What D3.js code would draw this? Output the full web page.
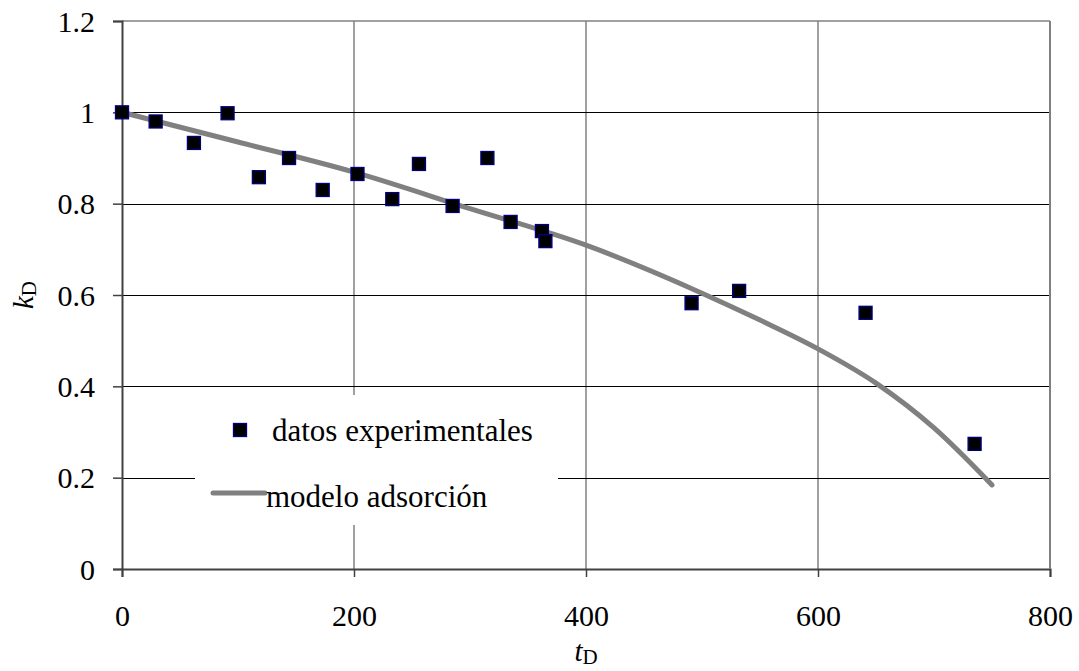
<!DOCTYPE html>
<html><head><meta charset="utf-8">
<script src="https://cdn.jsdelivr.net/npm/d3@7"></script>
<style>body{margin:0;background:#fff}svg{display:block}svg text{font-family:"Liberation Serif","Tinos","Times New Roman","Times","DejaVu Serif","Noto Serif",serif !important}</style>
</head><body><svg id="c" width="1079" height="671"></svg>
<script>
const expT = [0, 29, 62, 91, 118, 144, 173, 203, 233, 256, 285, 315, 335, 362, 365, 491, 532, 641, 735];
const expK = [1.0, 0.98, 0.933, 0.998, 0.858, 0.9, 0.83, 0.865, 0.81, 0.887, 0.795, 0.9, 0.76, 0.74, 0.718, 0.582, 0.609, 0.561, 0.274];
const modelT = [0, 100, 200, 300, 400, 500, 550, 600, 650, 700, 750];
const modelK = [1.0, 0.935, 0.869, 0.789, 0.709, 0.604, 0.545, 0.482, 0.407, 0.309, 0.184];
const xTicks = [0, 200, 400, 600, 800];
const yTicks = [0, 0.2, 0.4, 0.6, 0.8, 1.0, 1.2];
const yTickLabels = ["0", "0.2", "0.4", "0.6", "0.8", "1", "1.2"];
const legendLabels = ["datos experimentales", "modelo adsorción"];

const svg = d3.select("#c");
const L = 122, R = 1050, T = 21, B = 569;
const x = d3.scaleLinear().domain([0, 800]).range([L, R]);
const y = d3.scaleLinear().domain([0, 1.2]).range([B, T]);

svg.append("g").selectAll("line").data(xTicks.slice(1)).join("line")
  .attr("x1", d => x(d)).attr("x2", d => x(d)).attr("y1", T).attr("y2", B)
  .attr("stroke", "#808080").attr("stroke-width", 1.5);
svg.append("g").selectAll("line").data(yTicks.slice(1, -1)).join("line")
  .attr("x1", L).attr("x2", R).attr("y1", d => Math.round(y(d)) + 0.5).attr("y2", d => Math.round(y(d)) + 0.5)
  .attr("stroke", "#000").attr("stroke-width", 1);
svg.append("line").attr("x1", L).attr("x2", R).attr("y1", T).attr("y2", T).attr("stroke", "#808080").attr("stroke-width", 1.5);

const xAxis = d3.axisBottom(x).tickValues(xTicks).tickSize(8).tickFormat(d3.format("d"));
const gx = svg.append("g").attr("transform", `translate(0,${B})`).call(xAxis);
gx.select(".domain").attr("stroke", "#404040").attr("stroke-width", 2);
gx.selectAll(".tick line").attr("stroke", "#404040").attr("stroke-width", 1.5);
gx.selectAll(".tick text").attr("font-size", 30).attr("fill", "#000").attr("dy", 0).attr("y", 57);

const yAxis = d3.axisLeft(y).tickValues(yTicks).tickSize(9).tickFormat((d, i) => yTickLabels[i]);
const gy = svg.append("g").attr("transform", `translate(${L},0)`).call(yAxis);
gy.select(".domain").attr("stroke", "#404040").attr("stroke-width", 2);
gy.selectAll(".tick line").attr("stroke", "#404040").attr("stroke-width", 1.5);
gy.selectAll(".tick text").attr("font-size", 30).attr("fill", "#000").attr("x", -27).attr("dy", "0.34em");
svg.append("line").attr("x1", R).attr("x2", R).attr("y1", T).attr("y2", B).attr("stroke", "#808080").attr("stroke-width", 2);

const line = d3.line().x(d => x(d[0])).y(d => y(d[1])).curve(d3.curveMonotoneX);
svg.append("path").datum(modelT.map((t, i) => [t, modelK[i]]))
  .attr("d", line).attr("fill", "none").attr("stroke", "#808080").attr("stroke-width", 5).attr("stroke-linecap", "round");

const ms = 13;
svg.append("g").selectAll("rect").data(expT.map((t, i) => [t, expK[i]])).join("rect")
  .attr("x", d => x(d[0]) - ms / 2).attr("y", d => y(d[1]) - ms / 2).attr("width", ms).attr("height", ms)
  .attr("fill", "#000").attr("stroke", "#000080").attr("stroke-width", 1.3);

const lg = svg.append("g");
lg.append("rect").attr("x", 195).attr("y", 395).attr("width", 363).attr("height", 130).attr("fill", "#fff");
lg.append("rect").attr("x", 240 - ms / 2).attr("y", 430 - ms / 2).attr("width", ms).attr("height", ms)
  .attr("fill", "#000").attr("stroke", "#000080").attr("stroke-width", 1.3);
lg.append("text").attr("x", 272).attr("y", 441).attr("font-size", 31).text(legendLabels[0]);
lg.append("line").attr("x1", 213).attr("x2", 265).attr("y1", 493).attr("y2", 493).attr("stroke", "#808080").attr("stroke-width", 5).attr("stroke-linecap", "round");
lg.append("text").attr("x", 266).attr("y", 507).attr("font-size", 31).text(legendLabels[1]);

const xt = svg.append("text").attr("x", 586).attr("y", 661).attr("text-anchor", "middle").attr("font-size", 29);
xt.append("tspan").attr("font-style", "italic").text("t");
xt.append("tspan").attr("font-size", 21).attr("dy", 3).text("D");

const yt = svg.append("text").attr("transform", "translate(33,295) rotate(-90)").attr("text-anchor", "middle").attr("font-size", 29);
yt.append("tspan").attr("font-style", "italic").text("k");
yt.append("tspan").attr("font-size", 21).attr("dy", 3).text("D");
</script></body></html>
